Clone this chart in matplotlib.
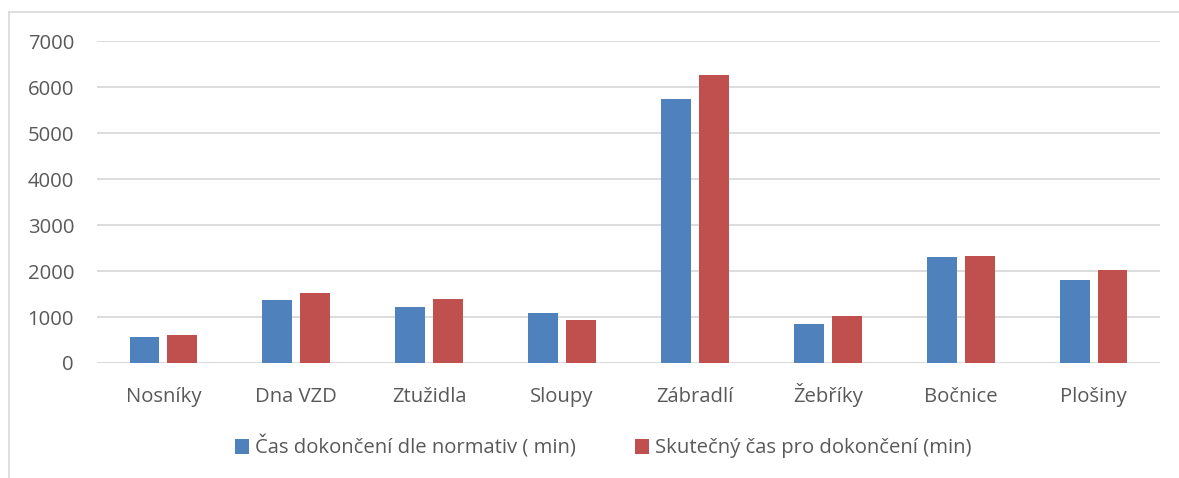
import matplotlib.pyplot as plt
import numpy as np
from matplotlib.lines import Line2D

categories = ['Nosníky', 'Dna VZD', 'Ztužidla', 'Sloupy', 'Zábradlí', 'Žebříky', 'Bočnice', 'Plošiny']
normativ = [560, 1370, 1220, 1080, 5735, 850, 2300, 1810]
skutecny = [600, 1530, 1390, 930, 6260, 1020, 2320, 2015]
series_names = ['Čas dokončení dle normativ ( min)', 'Skutečný čas pro dokončení (min)']

blue = '#4F81BD'
red = '#C0504D'
txt = '#595959'
grid = '#D9D9D9'
fs = 14.6

plt.rcParams['font.family'] = ['Open Sans', 'DejaVu Sans']

fig = plt.figure(figsize=(11.79, 4.78), dpi=100)
ax = fig.add_axes([97/1179, 1-363/478, (1160-97)/1179, (363-41.3)/478])

x = np.arange(len(categories))
w = 0.225
off = 0.1425
ax.bar(x - off, normativ, w, color=blue, label=series_names[0], zorder=3)
ax.bar(x + off, skutecny, w, color=red, label=series_names[1], zorder=3)

ax.set_xlim(-0.5, len(categories) - 0.5)
ax.set_ylim(0, 7000)
ax.set_yticks(range(0, 7001, 1000))
ax.set_xticks(x)
ax.set_xticklabels(categories, va='baseline')
ax.yaxis.grid(True, color=grid, linewidth=1.3, zorder=0)
for s in ax.spines.values():
    s.set_visible(False)
ax.tick_params(axis='both', length=0, labelsize=fs, colors=txt)
ax.tick_params(axis='y', pad=16.5)
ax.tick_params(axis='x', pad=28)

# chart frame (top and left visible)
fig.add_artist(Line2D([8.5/1179, 1], [1-12/478, 1-12/478], color=grid, linewidth=1.2))
fig.add_artist(Line2D([8.5/1179, 8.5/1179], [0, 1-12/478], color=grid, linewidth=1.2))

fig.legend(loc='center', bbox_to_anchor=(603/1179, 1-447/478), ncol=2, frameon=False,
           fontsize=fs, labelcolor=txt, handlelength=0.7, handleheight=0.7,
           handletextpad=0.3, columnspacing=2.9)

fig.savefig('out.png', dpi=100)
